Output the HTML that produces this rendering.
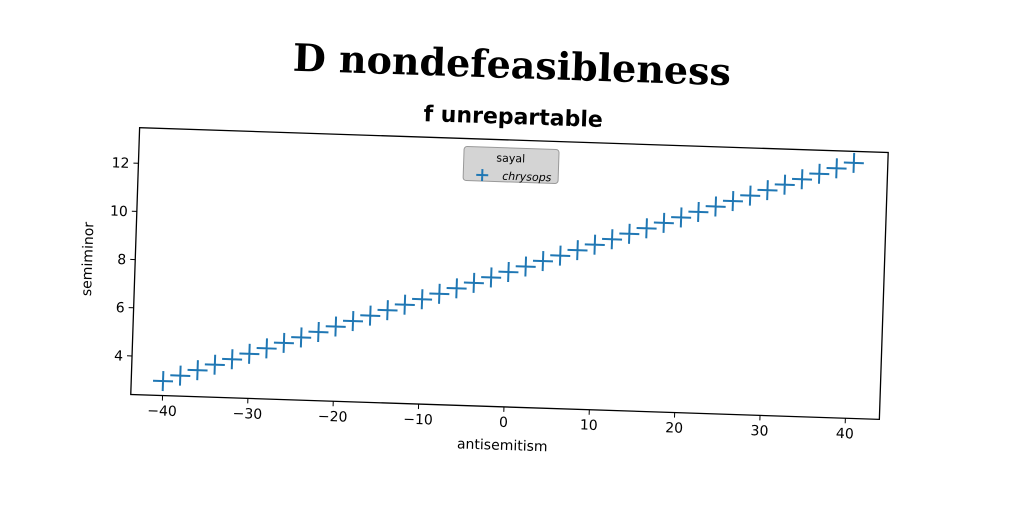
<!DOCTYPE html>
<html><head><meta charset="utf-8"><style>
html,body{margin:0;padding:0;background:#fff;}
svg{display:block;}
text{font-family:"DejaVu Sans","Liberation Sans",sans-serif;}
</style></head><body>
<svg id="chart" width="1024" height="512" viewBox="0 0 1024 512">
<g id="rot" transform="rotate(1.9 509 273)">
<text x="505" y="78" text-anchor="middle" font-size="38" font-weight="bold" style="font-family:'DejaVu Serif','Liberation Serif',serif">D nondefeasibleness</text>
<text x="508" y="124" text-anchor="middle" font-size="22" font-weight="bold" style="font-family:'DejaVu Sans',sans-serif">f unrepartable</text>
<rect x="135" y="140" width="749" height="267" fill="none" stroke="#000" stroke-width="1.3"/>
<g id="xt"></g><g id="yt"></g><g id="marks"></g>
<text x="508" y="450" text-anchor="middle" font-size="14">antisemitism</text>
<text transform="translate(92 273) rotate(-90)" text-anchor="middle" font-size="14">semiminor</text>
<g>
<rect x="460" y="148" width="95" height="34" rx="3" fill="#d4d4d4" stroke="#999"/>
<text x="507" y="162" text-anchor="middle" font-size="11">sayal</text>
<path d="M473 176h12M479 170v12" stroke="#1f77b4" stroke-width="2"/>
<text x="499" y="180" font-size="11" font-style="italic">chrysops</text>
</g>
</g>
</svg>
<script>
const xVals=[-40,-38,-36,-34,-32,-30,-28,-26,-24,-22,-20,-18,-16,-14,-12,-10,-8,-6,-4,-2,0,2,4,6,8,10,12,14,16,18,20,22,24,26,28,30,32,34,36,38,40];
const yVals=[3,3.25,3.5,3.75,4,4.25,4.5,4.75,5,5.25,5.5,5.75,6,6.25,6.5,6.75,7,7.25,7.5,7.75,8,8.25,8.5,8.75,9,9.25,9.5,9.75,10,10.25,10.5,10.75,11,11.25,11.5,11.75,12,12.25,12.5,12.75,13];
const xTicks=[-40,-30,-20,-10,0,10,20,30,40];
const yTicks=[4,6,8,10,12];
const NS="http://www.w3.org/2000/svg";
function sx(v){return 508.4+v*8.54;}
function sy(v){return 175.6+(12-v)*24.1;}
function mk(tag,attrs,parent){const e=document.createElementNS(NS,tag);for(const k in attrs)e.setAttribute(k,attrs[k]);parent.appendChild(e);return e;}
const xt=document.getElementById('xt'),yt=document.getElementById('yt'),marks=document.getElementById('marks');
xTicks.forEach(t=>{
 const l=mk('line',{x1:sx(t),x2:sx(t),y1:407,y2:412,stroke:'#000'},xt);
 
 
 const tx=mk('text',{x:sx(t),y:427,'text-anchor':'middle','font-size':'14'},xt);
 tx.textContent=t<0?'\u2212'+(-t):String(t);
 
 
});
yTicks.forEach(t=>{
 const l=mk('line',{x1:130,x2:135,y1:sy(t),y2:sy(t),stroke:'#000'},yt);
 
 
 const tx=mk('text',{x:126,y:sy(t)+5,'text-anchor':'end','font-size':'14'},yt);
 tx.textContent=String(t);
 
 
});
xVals.forEach((v,i)=>{
 const x=sx(v),y=sy(yVals[i]);
 const p=mk('path',{d:`M${x-10} ${y}h20M${x} ${y-10}v20`,stroke:'#1f77b4','stroke-width':'2'},marks);
 
 
});
</script>
</body></html>
